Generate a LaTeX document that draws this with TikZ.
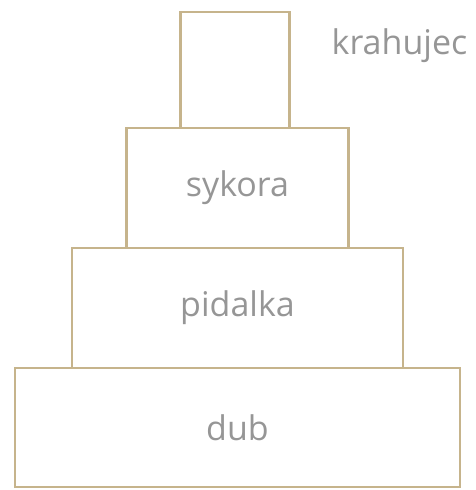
\documentclass[tikz,border=0pt]{standalone}
\usepackage{fontspec}
\setmainfont{Open Sans}
\usepackage{tikz}
\usetikzlibrary{positioning}
\definecolor{boxline}{RGB}{198,180,140}
\definecolor{boxtext}{RGB}{150,150,150}

\begin{document}
\begin{tikzpicture}[
  box/.style={rectangle, draw=boxline, line width=2.4pt, inner sep=0pt, outer sep=0pt, minimum height=120pt, align=center, text=boxtext, font=\fontsize{34}{40}\selectfont},
  tag/.style={text=boxtext, inner sep=0pt, font=\fontsize{34}{40}\selectfont}
]
\useasboundingbox (0,0) rectangle (475pt,490pt);
\node[box, minimum width=445pt, minimum height=119pt] (dub) at (237.5pt, 62.5pt) {dub};
\node[box, minimum width=331pt, above=0pt of dub] (pidalka) {pidalka};
\node[box, minimum width=222pt, above=0pt of pidalka] (sykora) {sykora};
\node[box, minimum width=109pt, minimum height=116pt, above=0pt of sykora, xshift=-2.5pt] (krahujec) {};
\node[tag, anchor=west] (krahujeclabel) at ([xshift=42pt, yshift=-34pt]krahujec.north east) {krahujec};
\end{tikzpicture}
\end{document}
